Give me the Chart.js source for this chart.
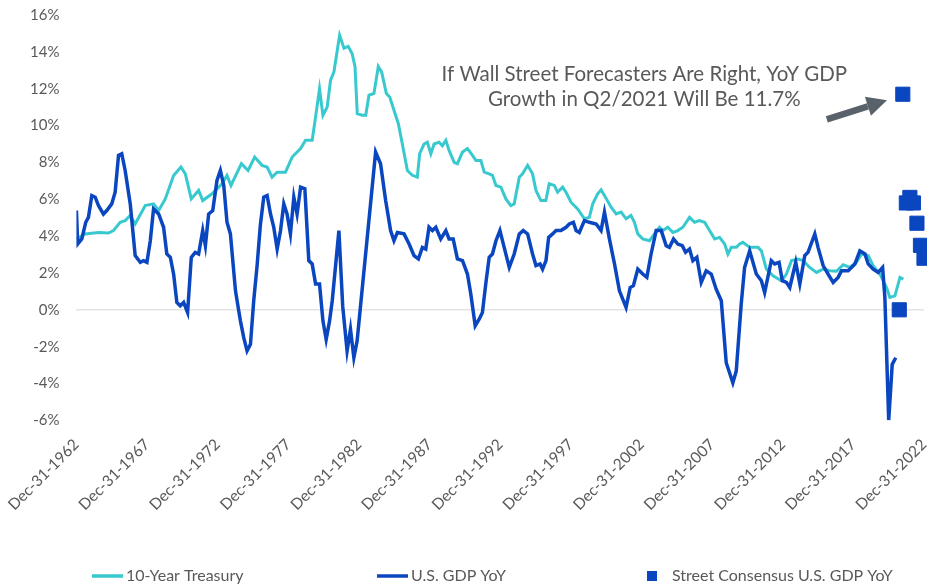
<!DOCTYPE html>
<html>
<head>
<meta charset="utf-8">
<script src="https://cdn.jsdelivr.net/npm/chart.js@4"></script>
<style>
  html, body { margin: 0; padding: 0; background: #fff; }
  #wrap { width: 927px; height: 584px; }
</style>
</head>
<body>
<div id="wrap"><canvas id="gdpChart"></canvas></div>
<script>
// x values are decimal years: 1963.0 is the Dec-31-1962 tick
const treasuryYears = [
  1963.00, 1963.62, 1964.56, 1965.27, 1965.62, 1966.10, 1966.45, 1966.81, 1967.16, 1967.87,
  1968.46, 1968.82, 1969.29, 1969.88, 1970.40, 1970.71, 1971.13, 1971.65, 1971.94, 1972.60,
  1973.31, 1973.66, 1973.94, 1974.68, 1975.15, 1975.62, 1976.14, 1976.50, 1976.85, 1977.21,
  1977.80, 1978.27, 1978.87, 1979.22, 1979.69, 1979.93, 1980.21, 1980.45, 1980.75, 1980.99,
  1981.23, 1981.63, 1981.94, 1982.24, 1982.52, 1982.72, 1982.88, 1983.23, 1983.48, 1983.71,
  1984.06, 1984.37, 1984.61, 1984.94, 1985.18, 1985.48, 1985.79, 1986.07, 1986.43, 1986.78,
  1987.13, 1987.30, 1987.61, 1987.84, 1988.09, 1988.32, 1988.67, 1988.91, 1989.15, 1989.38,
  1989.74, 1989.97, 1990.33, 1990.68, 1991.04, 1991.28, 1991.63, 1991.87, 1992.22, 1992.45,
  1992.70, 1993.05, 1993.40, 1993.75, 1993.99, 1994.35, 1994.58, 1994.94, 1995.29, 1995.53,
  1995.88, 1996.23, 1996.47, 1996.83, 1997.06, 1997.42, 1997.66, 1998.01, 1998.48, 1998.96,
  1999.31, 1999.55, 1999.90, 2000.14, 2000.38, 2000.85, 2001.21, 2001.56, 2001.91, 2002.26,
  2002.50, 2002.74, 2003.09, 2003.57, 2003.92, 2004.28, 2004.51, 2004.87, 2005.22, 2005.57,
  2005.93, 2006.40, 2006.76, 2007.11, 2007.47, 2007.82, 2008.18, 2008.53, 2008.89, 2009.12,
  2009.36, 2009.72, 2009.95, 2010.18, 2010.66, 2011.01, 2011.25, 2011.49, 2011.84, 2012.31,
  2012.91, 2013.26, 2013.62, 2014.09, 2014.44, 2014.91, 2015.39, 2015.86, 2016.33, 2016.81,
  2017.28, 2017.75, 2018.22, 2018.58, 2019.05, 2019.40, 2019.88, 2020.35, 2020.58, 2020.94,
  2021.30, 2021.54
];
const treasuryValues = [
  3.85, 4.12, 4.20, 4.17, 4.30, 4.75, 4.84, 5.12, 4.66, 5.66,
  5.75, 5.39, 6.02, 7.29, 7.75, 7.38, 6.02, 6.48, 5.93, 6.30,
  6.84, 7.29, 6.75, 7.93, 7.56, 8.29, 7.84, 7.75, 7.20, 7.47,
  7.47, 8.29, 8.75, 9.20, 9.20, 10.47, 12.00, 10.56, 11.00, 12.46,
  12.92, 14.90, 14.20, 14.30, 13.90, 13.20, 10.65, 10.56, 10.56, 11.65,
  11.74, 13.20, 12.90, 11.74, 11.55, 10.83, 10.10, 9.00, 7.56, 7.30,
  7.20, 8.47, 9.00, 9.10, 8.47, 9.00, 9.10, 8.90, 9.20, 8.65,
  8.00, 7.93, 8.56, 8.75, 8.38, 8.10, 8.10, 7.47, 7.38, 7.30,
  6.75, 6.66, 6.02, 5.66, 5.75, 7.20, 7.38, 7.84, 7.38, 6.48,
  5.93, 5.93, 6.84, 6.75, 6.38, 6.66, 6.38, 5.84, 5.48, 4.94,
  5.02, 5.75, 6.30, 6.51, 6.20, 5.57, 5.20, 5.30, 4.94, 5.12,
  4.75, 4.12, 3.85, 3.75, 4.12, 4.48, 4.30, 4.48, 4.20, 4.30,
  4.48, 5.02, 4.75, 4.84, 4.75, 4.30, 3.85, 3.93, 3.57, 3.03,
  3.39, 3.39, 3.57, 3.66, 3.39, 3.39, 3.39, 3.20, 2.21, 1.85,
  1.58, 1.94, 2.67, 2.76, 2.67, 2.30, 2.03, 2.21, 2.12, 2.10,
  2.45, 2.30, 2.58, 3.03, 2.94, 2.40, 1.94, 1.21, 0.67, 0.76,
  1.76, 1.67
];

const gdpYears = [
  1963.00, 1963.09, 1963.38, 1963.66, 1963.85, 1964.09, 1964.33, 1964.56, 1964.91, 1965.15,
  1965.50, 1965.74, 1965.98, 1966.21, 1966.45, 1966.81, 1967.16, 1967.52, 1967.75, 1967.99,
  1968.23, 1968.46, 1968.82, 1969.17, 1969.40, 1969.65, 1969.88, 1970.11, 1970.35, 1970.59,
  1970.87, 1971.13, 1971.41, 1971.65, 1971.94, 1972.13, 1972.36, 1972.65, 1972.95, 1973.19,
  1973.43, 1973.66, 1973.90, 1974.26, 1974.49, 1974.61, 1974.84, 1975.08, 1975.32, 1975.55,
  1975.79, 1976.02, 1976.26, 1976.50, 1976.74, 1976.97, 1977.21, 1977.45, 1977.68, 1977.91,
  1978.15, 1978.39, 1978.62, 1978.87, 1979.17, 1979.45, 1979.69, 1979.93, 1980.21, 1980.45,
  1980.68, 1980.92, 1981.11, 1981.58, 1981.85, 1982.16, 1982.40, 1982.64, 1982.87, 1984.18,
  1984.53, 1984.89, 1985.24, 1985.48, 1985.72, 1986.19, 1986.55, 1986.90, 1987.21, 1987.49,
  1987.73, 1987.96, 1988.20, 1988.44, 1988.79, 1989.15, 1989.38, 1989.67, 1989.97, 1990.33,
  1990.68, 1990.92, 1991.23, 1991.51, 1991.74, 1991.99, 1992.22, 1992.45, 1992.70, 1992.98,
  1993.28, 1993.64, 1993.99, 1994.35, 1994.63, 1994.94, 1995.29, 1995.53, 1995.82, 1996.00,
  1996.24, 1996.43, 1996.71, 1996.95, 1997.30, 1997.66, 1997.89, 1998.18, 1998.37, 1998.60,
  1998.96, 1999.31, 1999.79, 2000.14, 2000.38, 2000.73, 2001.09, 2001.44, 2001.91, 2002.20,
  2002.43, 2002.74, 2003.09, 2003.38, 2003.68, 2004.04, 2004.40, 2004.75, 2004.98, 2005.27,
  2005.57, 2005.89, 2006.12, 2006.40, 2006.64, 2006.92, 2007.23, 2007.58, 2007.94, 2008.29,
  2008.65, 2009.00, 2009.47, 2009.71, 2010.06, 2010.30, 2010.66, 2011.13, 2011.49, 2011.72,
  2012.19, 2012.43, 2012.74, 2012.97, 2013.26, 2013.50, 2013.92, 2014.21, 2014.56, 2014.79,
  2015.27, 2015.50, 2015.86, 2016.21, 2016.57, 2016.92, 2017.16, 2017.63, 2018.11, 2018.46,
  2018.82, 2019.05, 2019.40, 2019.76, 2020.07, 2020.23, 2020.50, 2020.75, 2021.00
];
const gdpValues = [
  5.39, 3.57, 3.85, 4.75, 5.02, 6.20, 6.11, 5.66, 5.20, 5.39,
  5.75, 6.38, 8.38, 8.47, 7.56, 5.75, 2.94, 2.58, 2.67, 2.58,
  3.75, 5.48, 5.20, 4.48, 3.03, 2.85, 1.94, 0.40, 0.22, 0.40,
  -0.15, 2.85, 3.12, 3.03, 4.30, 3.48, 5.20, 5.39, 7.02, 7.56,
  6.75, 4.75, 4.12, 1.03, -0.05, -0.60, -1.50, -2.23, -1.87, 0.49,
  2.40, 4.60, 6.11, 6.20, 5.20, 4.48, 3.30, 4.30, 5.75, 5.20,
  4.12, 6.11, 5.20, 6.66, 6.57, 2.67, 2.49, 1.40, 1.40, -0.60,
  -1.60, -0.60, 0.49, 4.30, 0.20, -2.23, -1.05, -2.60, -1.69, 8.56,
  7.93, 5.93, 4.30, 3.75, 4.20, 4.12, 3.57, 2.94, 2.76, 3.39,
  3.30, 4.48, 4.30, 4.48, 3.85, 4.30, 3.85, 3.85, 2.76, 2.67,
  1.94, 0.85, -0.87, -0.51, -0.15, 1.49, 2.85, 3.03, 3.75, 4.30,
  3.39, 2.30, 3.03, 4.12, 4.30, 4.12, 3.03, 2.40, 2.49, 2.21,
  2.67, 3.93, 4.12, 4.30, 4.30, 4.48, 4.66, 4.75, 4.30, 4.20,
  4.84, 4.75, 4.66, 4.30, 5.30, 3.85, 2.49, 1.03, 0.13, 1.21,
  1.31, 2.21, 1.94, 1.76, 3.03, 4.30, 4.30, 3.48, 3.39, 3.85,
  3.57, 3.48, 3.12, 3.30, 2.67, 2.85, 1.49, 2.12, 1.94, 1.12,
  0.49, -2.87, -3.96, -3.32, 0.31, 2.30, 3.20, 1.94, 1.58, 0.94,
  2.67, 2.49, 2.58, 1.58, 1.49, 1.21, 2.58, 1.40, 2.94, 3.12,
  4.12, 3.39, 2.40, 1.94, 1.49, 1.76, 2.12, 2.12, 2.49, 3.20,
  3.03, 2.49, 2.21, 2.03, 2.30, 0.67, -6.00, -2.96, -2.60
];

const consensusYears = [2021.25, 2021.50, 2021.75, 2022.00, 2022.25, 2022.50, 2022.75, 2023.00];
const consensusValues = [0.0, 11.7, 5.8, 6.1, 5.8, 4.7, 3.5, 2.8];

const seriesLabels = ['10-Year Treasury', 'U.S. GDP YoY', 'Street Consensus U.S. GDP YoY'];
const noteLines = ['If Wall Street Forecasters Are Right, YoY GDP', 'Growth in Q2/2021 Will Be 11.7%'];

const TEAL = '#38c9cf';
const BLUE = '#0a46bf';
const GREY = '#595959';
const FONT = 'Lato, "Noto Sans", sans-serif';

Chart.defaults.font.family = FONT;
Chart.defaults.font.size = 15;
Chart.defaults.color = GREY;

function pairs(xs, ys) {
  return xs.map((x, i) => ({ x: x, y: ys[i] }));
}

// callout text + arrow, placed in data coordinates
const calloutPlugin = {
  id: 'callout',
  afterDatasetsDraw(chart) {
    const { ctx, scales: { x, y } } = chart;
    ctx.save();
    ctx.font = '20.5px ' + FONT;
    ctx.fillStyle = GREY;
    ctx.textAlign = 'center';
    ctx.textBaseline = 'middle';
    const cx = x.getPixelForValue(2003.2);
    ctx.fillText(noteLines[0], cx, y.getPixelForValue(12.8));
    ctx.fillText(noteLines[1], cx, y.getPixelForValue(11.4));

    const x0 = x.getPixelForValue(2016.12), y0 = y.getPixelForValue(10.34);
    const x1 = x.getPixelForValue(2020.38), y1 = y.getPixelForValue(11.37);
    const ang = Math.atan2(y1 - y0, x1 - x0);
    const headLen = 20, headHalf = 10;
    const bx = x1 - headLen * Math.cos(ang), by = y1 - headLen * Math.sin(ang);
    ctx.strokeStyle = '#59626b';
    ctx.fillStyle = '#59626b';
    ctx.lineWidth = 6.5;
    ctx.beginPath();
    ctx.moveTo(x0, y0);
    ctx.lineTo(bx, by);
    ctx.stroke();
    ctx.beginPath();
    ctx.moveTo(x1, y1);
    ctx.lineTo(bx + headHalf * Math.sin(ang), by - headHalf * Math.cos(ang));
    ctx.lineTo(bx - headHalf * Math.sin(ang), by + headHalf * Math.cos(ang));
    ctx.closePath();
    ctx.fill();
    ctx.restore();
  }
};

// legend row along the bottom edge
const legendPlugin = {
  id: 'legendRow',
  afterDraw(chart) {
    const ctx = chart.ctx;
    const yMid = chart.height - 8;
    const items = [
      { x: 92, kind: 'line', color: TEAL },
      { x: 377, kind: 'line', color: BLUE },
      { x: 647, kind: 'square', color: BLUE }
    ];
    ctx.save();
    ctx.font = '16px ' + FONT;
    ctx.textBaseline = 'middle';
    items.forEach((it, i) => {
      let tx;
      if (it.kind === 'line') {
        ctx.strokeStyle = it.color;
        ctx.lineWidth = 3.5;
        ctx.beginPath();
        ctx.moveTo(it.x, yMid);
        ctx.lineTo(it.x + 31, yMid);
        ctx.stroke();
        tx = it.x + 34;
      } else {
        ctx.fillStyle = it.color;
        ctx.fillRect(it.x, yMid - 5, 10, 10);
        tx = it.x + 25;
      }
      ctx.fillStyle = GREY;
      ctx.fillText(seriesLabels[i], tx, yMid);
    });
    ctx.restore();
  }
};

new Chart(document.getElementById('gdpChart'), {
  type: 'line',
  data: {
    datasets: [
      {
        label: seriesLabels[0],
        data: pairs(treasuryYears, treasuryValues),
        borderColor: TEAL,
        borderWidth: 3,
        pointRadius: 0,
        tension: 0,
        order: 3
      },
      {
        label: seriesLabels[1],
        data: pairs(gdpYears, gdpValues),
        borderColor: BLUE,
        borderWidth: 3.5,
        pointRadius: 0,
        tension: 0,
        order: 2
      },
      {
        label: seriesLabels[2],
        data: pairs(consensusYears, consensusValues),
        showLine: false,
        pointStyle: 'rect',
        pointRadius: 10,
        pointBorderWidth: 1,
        backgroundColor: BLUE,
        borderColor: BLUE,
        clip: false,
        order: 1
      }
    ]
  },
  options: {
    responsive: true,
    maintainAspectRatio: false,
    animation: false,
    layout: { autoPadding: false, padding: { left: 13, top: 15, right: 3, bottom: 55 } },
    plugins: {
      legend: { display: false },
      tooltip: { enabled: false }
    },
    scales: {
      x: {
        type: 'linear',
        min: 1963,
        max: 2023,
        grid: { display: false, drawTicks: false },
        border: { display: false },
        ticks: {
          stepSize: 5,
          autoSkip: false,
          maxRotation: 45,
          minRotation: 45,
          padding: 15,
          font: { size: 15.5 },
          callback: v => 'Dec-31-' + (v - 1)
        },
        afterFit: scale => { scale.paddingLeft = 0; scale.paddingRight = 0; }
      },
      y: {
        min: -6,
        max: 16,
        grid: {
          drawTicks: false,
          color: c => (c.tick && c.tick.value === 0 ? '#e4e4e4' : 'rgba(0,0,0,0)'),
          lineWidth: 1.5
        },
        border: { display: false },
        ticks: {
          stepSize: 2,
          padding: 17,
          callback: v => v + '%'
        },
        afterFit: scale => { scale.paddingTop = 0; scale.paddingBottom = 0; }
      }
    }
  },
  plugins: [calloutPlugin, legendPlugin]
});
</script>
</body>
</html>
